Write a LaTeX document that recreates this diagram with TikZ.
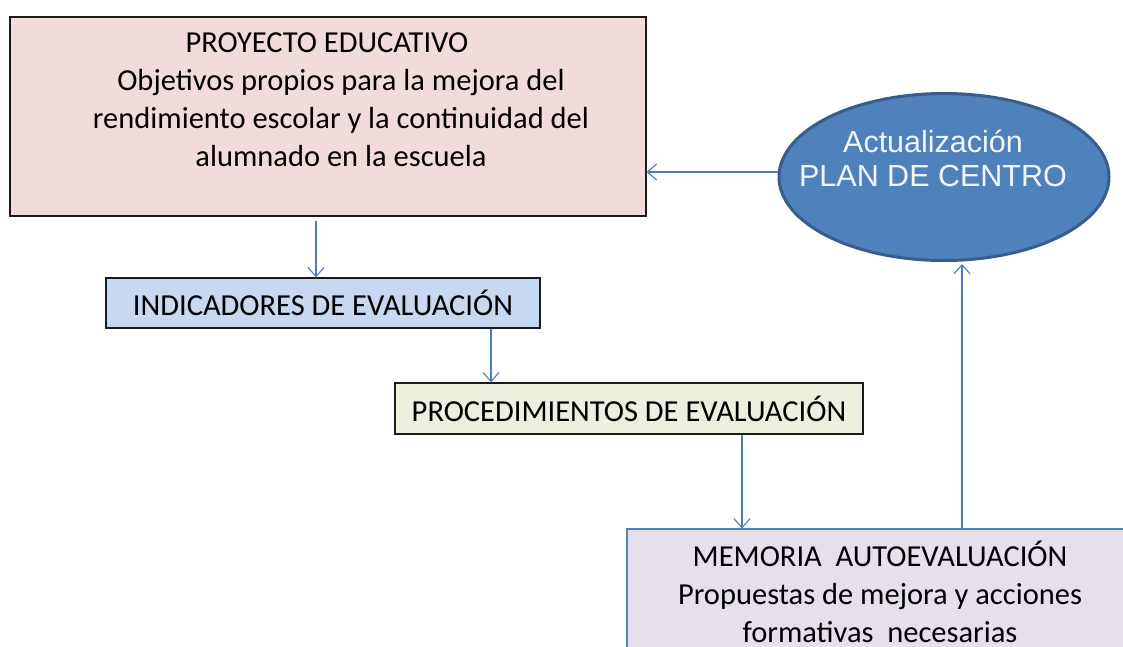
\documentclass[tikz,border=0pt]{standalone}
\usepackage{fontspec}
\setmainfont{Carlito}
\newfontfamily\arialf{Liberation Sans}
\usetikzlibrary{shapes.geometric,arrows.meta}
\definecolor{pinkfill}{HTML}{F2DCDB}
\definecolor{bluefill}{HTML}{C6D9F1}
\definecolor{greenfill}{HTML}{EBF1DE}
\definecolor{lilacfill}{HTML}{E5E0EC}
\definecolor{ellfill}{HTML}{4F81BD}
\definecolor{elldraw}{HTML}{385D8A}
\definecolor{arrcol}{HTML}{4A7EBB}
\definecolor{boxdraw}{HTML}{1A1A1A}
\tikzset{
  box/.style={draw=boxdraw, line width=1.4pt, inner sep=0pt, rectangle},
  txt/.style={inner sep=0pt, align=center, font=\fontsize{30.5}{38}\selectfont, text=black},
  arr/.style={draw=arrcol, line width=1.1pt, -{Straight Barb[length=9pt,width=16pt,line width=1.1pt]}},
}
\begin{document}
\begin{tikzpicture}[x=1pt,y=-1pt]
\useasboundingbox (0,0) rectangle (1123,646);
\clip (0,0) rectangle (1123,646);
\fill[white] (0,0) rectangle (1123,646);
% boxes
\node[box, fill=pinkfill, minimum width=636pt, minimum height=199pt] (pink) at (328,116.5) {};
\node[txt, anchor=north] (pinktxt) at (341,33) {PROYECTO EDUCATIVO\hspace*{28pt}\\Objetivos propios para la mejora del\\rendimiento escolar y la continuidad del\\alumnado en la escuela};
\node[box, fill=bluefill, minimum width=434pt, minimum height=50pt, font=\fontsize{30.5}{36}\selectfont] (ind) at (323,303) {INDICADORES DE EVALUACIÓN};
\node[box, fill=greenfill, minimum width=468pt, minimum height=51pt, font=\fontsize{30.5}{36}\selectfont] (proc) at (629,408.5) {PROCEDIMIENTOS DE EVALUACIÓN};
\node[box, draw=ellfill, line width=1.1pt, fill=lilacfill, minimum width=506pt, minimum height=126pt, txt] (mem) at (880,592) {MEMORIA~ AUTOEVALUACIÓN\\Propuestas de mejora y acciones\\formativas~ necesarias};
\node[ellipse, draw=elldraw, line width=3pt, fill=ellfill, minimum width=330pt, minimum height=167pt, inner sep=0pt] (ell) at (944,177) {};
\node[inner sep=0pt, align=center, text=white!93!ellfill, font=\arialf\fontsize{30.5}{34}\selectfont, anchor=north] (elltxt) at (933,130) {Actualización\\PLAN DE CENTRO};
% connectors
\coordinate (xa) at (316,0);
\coordinate (xb) at (491,0);
\coordinate (xc) at (742,0);
\coordinate (xd) at (962,0);
\coordinate (ya) at (0,172);
\draw[arr] ([yshift=-4pt]pink.south -| xa) -- (ind.north -| xa);
\draw[arr] (ind.south -| xb) -- (proc.north -| xb);
\draw[arr] (proc.south -| xc) -- (mem.north -| xc);
\draw[arr] (mem.north -| xd) -- ([yshift=-2pt]ell.south -| xd);
\draw[arr] (ell.west |- ya) -- (pink.east |- ya);
\end{tikzpicture}
\end{document}
